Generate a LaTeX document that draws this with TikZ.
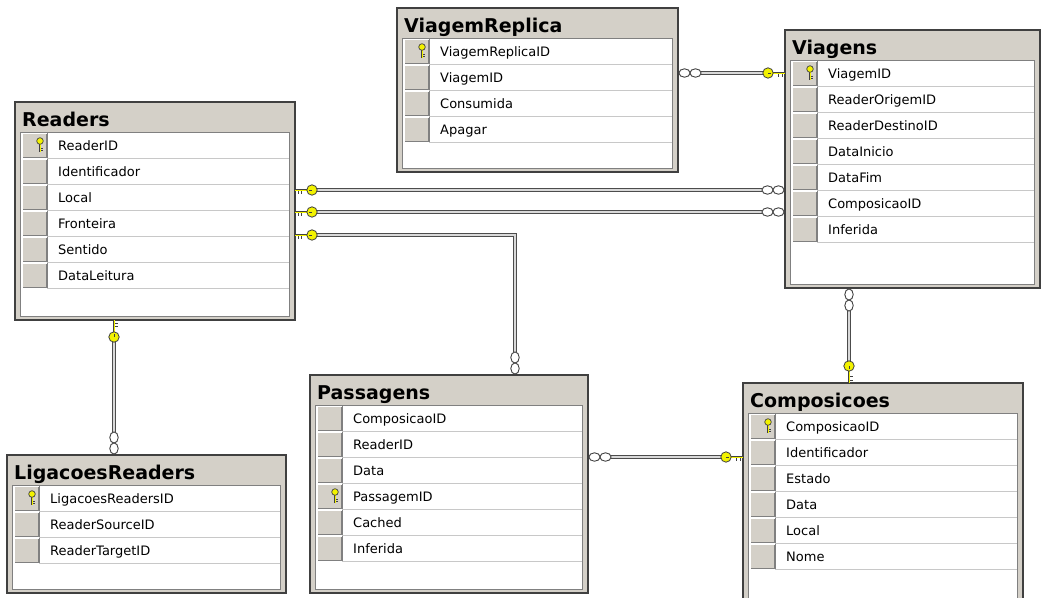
\documentclass[tikz,border=0pt]{standalone}
\usepackage{fontspec}
\setmainfont{DejaVu Sans}
\usetikzlibrary{fit}
\definecolor{btnface}{HTML}{D4D0C8}
\definecolor{frameline}{HTML}{404040}
\definecolor{sepgray}{HTML}{C8C8C8}
\definecolor{btnshadow}{HTML}{808080}
\definecolor{keyyellow}{HTML}{F2F200}
\tikzset{
 tabframe/.style={draw=frameline, line width=1.5pt, fill=btnface, inner sep=0pt},
 titletext/.style={font=\fontsize{19}{19}\selectfont\bfseries, inner sep=0pt, anchor=base west},
 rowtext/.style={font=\fontsize{13}{13}\selectfont, inner sep=0pt, anchor=base west},
 relline/.style={draw=black!70, line width=1pt, double=gray!30, double distance=2pt},
 keyfill/.style={fill=keyyellow, draw=black!75, line width=0.8pt},
 ringstyle/.style={fill=white, draw=black!75, line width=0.9pt},
}
% primary key icon inside a row button
\newcommand\pkey[2]{%
  \draw[black!75, line width=2pt] ({#1},{#2}) -- ({#1},{#2+7.5});
  \draw[keyyellow, line width=0.8pt] ({#1},{#2}) -- ({#1},{#2+7.5});
  \draw[black!75, line width=0.8pt] ({#1+0.8},{#2+4}) -- ({#1+2.8},{#2+4}) ({#1+0.8},{#2+6.5}) -- ({#1+2.8},{#2+6.5});
  \draw[keyfill, line width=0.7pt] ({#1},{#2-3}) circle (3.3);
}
% connector key, horizontal: #1 table edge x, #2 y, #3 +1 table on right / -1 on left
\newcommand\hkey[3]{%
  \draw[black!75, line width=2.4pt] ({#1-(#3)*13},{#2}) -- ({#1},{#2});
  \draw[keyyellow, line width=1pt] ({#1-(#3)*13},{#2}) -- ({#1},{#2});
  \draw[black!75, line width=0.9pt] ({#1-(#3)*3},{#2+1}) -- ({#1-(#3)*3},{#2+3.5}) ({#1-(#3)*6.5},{#2+1}) -- ({#1-(#3)*6.5},{#2+3.5});
  \draw[keyfill] ({#1-(#3)*17},{#2}) circle (5.2);
  \draw[black!75, line width=0.9pt] ({#1-(#3)*17},{#2}) -- ({#1-(#3)*14},{#2});
}
% connector key, vertical: #1 x, #2 table edge y, #3 +1 table below / -1 above
\newcommand\vkey[3]{%
  \draw[black!75, line width=2.4pt] ({#1},{#2-(#3)*13}) -- ({#1},{#2});
  \draw[keyyellow, line width=1pt] ({#1},{#2-(#3)*13}) -- ({#1},{#2});
  \draw[black!75, line width=0.9pt] ({#1+1},{#2-(#3)*3}) -- ({#1+3.5},{#2-(#3)*3}) ({#1+1},{#2-(#3)*6.5}) -- ({#1+3.5},{#2-(#3)*6.5});
  \draw[keyfill] ({#1},{#2-(#3)*17}) circle (5.2);
  \draw[black!75, line width=0.9pt] ({#1},{#2-(#3)*17}) -- ({#1},{#2-(#3)*14});
}
% many-end symbol
\newcommand\hinf[3]{%
  \draw[ringstyle] ({#1-(#3)*17.5},{#2}) ellipse (5.6 and 4.2);
  \draw[ringstyle] ({#1-(#3)*6.5},{#2}) ellipse (5.6 and 4.2);
}
\newcommand\vinf[3]{%
  \draw[ringstyle] ({#1},{#2-(#3)*17.5}) ellipse (4.2 and 5.6);
  \draw[ringstyle] ({#1},{#2-(#3)*6.5}) ellipse (4.2 and 5.6);
}
% table: #1 name, #2 x1, #3 y1, #4 x2, #5 y2, #6 title, #7 key row, #8 rows
\newcommand\dbtab[8]{%
  \node[tabframe, fit={(#2,#3) (#4,#5)}] (#1) {};
  \path[draw=btnshadow, line width=0.8pt, fill=white] ({#2+5},{#3+30}) rectangle ({#4-6},{#5-4});
  \node[titletext] (#1-title) at ({#2+7},{#3+24}) {#6};
  \foreach \t [count=\i] in {#8} {
    \pgfmathsetmacro\ry{#3+30+(\i-1)*26}
    \draw[sepgray, line width=0.9pt] ({#2+32},{\ry+26}) -- ({#4-6},{\ry+26});
    \fill[btnface] ({#2+7},{\ry+1}) rectangle ({#2+32},{\ry+25.5});
    \draw[btnshadow, line width=1.1pt] ({#2+7},{\ry+25.5}) -- ({#2+32},{\ry+25.5}) -- ({#2+32},{\ry+1});
    \draw[white, line width=1pt] ({#2+7},{\ry+25.5}) -- ({#2+7},{\ry+1}) -- ({#2+32},{\ry+1});
    \node[rowtext] (#1-r\i) at ({#2+43},{\ry+18}) {\t};
    \ifnum\i=#7\relax \pkey{#2+25}{\ry+12}\fi
  }
}
\begin{document}
\begin{tikzpicture}[x=1pt, y=-1pt]
\useasboundingbox (0,0) rectangle (1048,597);
\clip (0,0) rectangle (1048,597);
\fill[white] (0,0) rectangle (1048,597);

\dbtab{readers}{15}{102}{295}{320}{Readers}{1}{ReaderID,Identificador,Local,Fronteira,Sentido,DataLeitura}
\dbtab{viagemreplica}{397}{8}{678}{172}{ViagemReplica}{1}{ViagemReplicaID,ViagemID,Consumida,Apagar}
\dbtab{viagens}{785}{30}{1040}{288}{Viagens}{1}{ViagemID,ReaderOrigemID,ReaderDestinoID,DataInicio,DataFim,ComposicaoID,Inferida}
\dbtab{ligacoesreaders}{7}{455}{286}{593}{LigacoesReaders}{1}{LigacoesReadersID,ReaderSourceID,ReaderTargetID}
\dbtab{passagens}{310}{375}{588}{593}{Passagens}{4}{ComposicaoID,ReaderID,Data,PassagemID,Cached,Inferida}
\dbtab{composicoes}{743}{383}{1023}{604}{Composicoes}{1}{ComposicaoID,Identificador,Estado,Data,Local,Nome}

% relationships
\draw[relline, shorten <=22pt, shorten >=17pt] (viagemreplica.east |- 0,73) -- (viagens.west |- 0,73);
\hinf{678}{73}{-1} \hkey{785}{73}{1}

\draw[relline, shorten <=17pt, shorten >=22pt] (readers.east |- 0,190) -- (viagens.west |- 0,190);
\hkey{295}{190}{-1} \hinf{785}{190}{1}

\draw[relline, shorten <=17pt, shorten >=22pt] (readers.east |- 0,212) -- (viagens.west |- 0,212);
\hkey{295}{212}{-1} \hinf{785}{212}{1}

\draw[relline, shorten <=17pt, shorten >=22pt] (readers.east |- 0,235) -| (passagens.north -| 515,0);
\hkey{295}{235}{-1} \vinf{515}{375}{1}

\draw[relline, shorten <=17pt, shorten >=22pt] (readers.south -| 114,0) -- (ligacoesreaders.north -| 114,0);
\vkey{114}{320}{-1} \vinf{114}{455}{1}

\draw[relline, shorten <=22pt, shorten >=17pt] (viagens.south -| 849,0) -- (composicoes.north -| 849,0);
\vinf{849}{288}{-1} \vkey{849}{383}{1}

\draw[relline, shorten <=22pt, shorten >=17pt] (passagens.east |- 0,457) -- (composicoes.west |- 0,457);
\hinf{588}{457}{-1} \hkey{743}{457}{1}
\end{tikzpicture}
\end{document}
